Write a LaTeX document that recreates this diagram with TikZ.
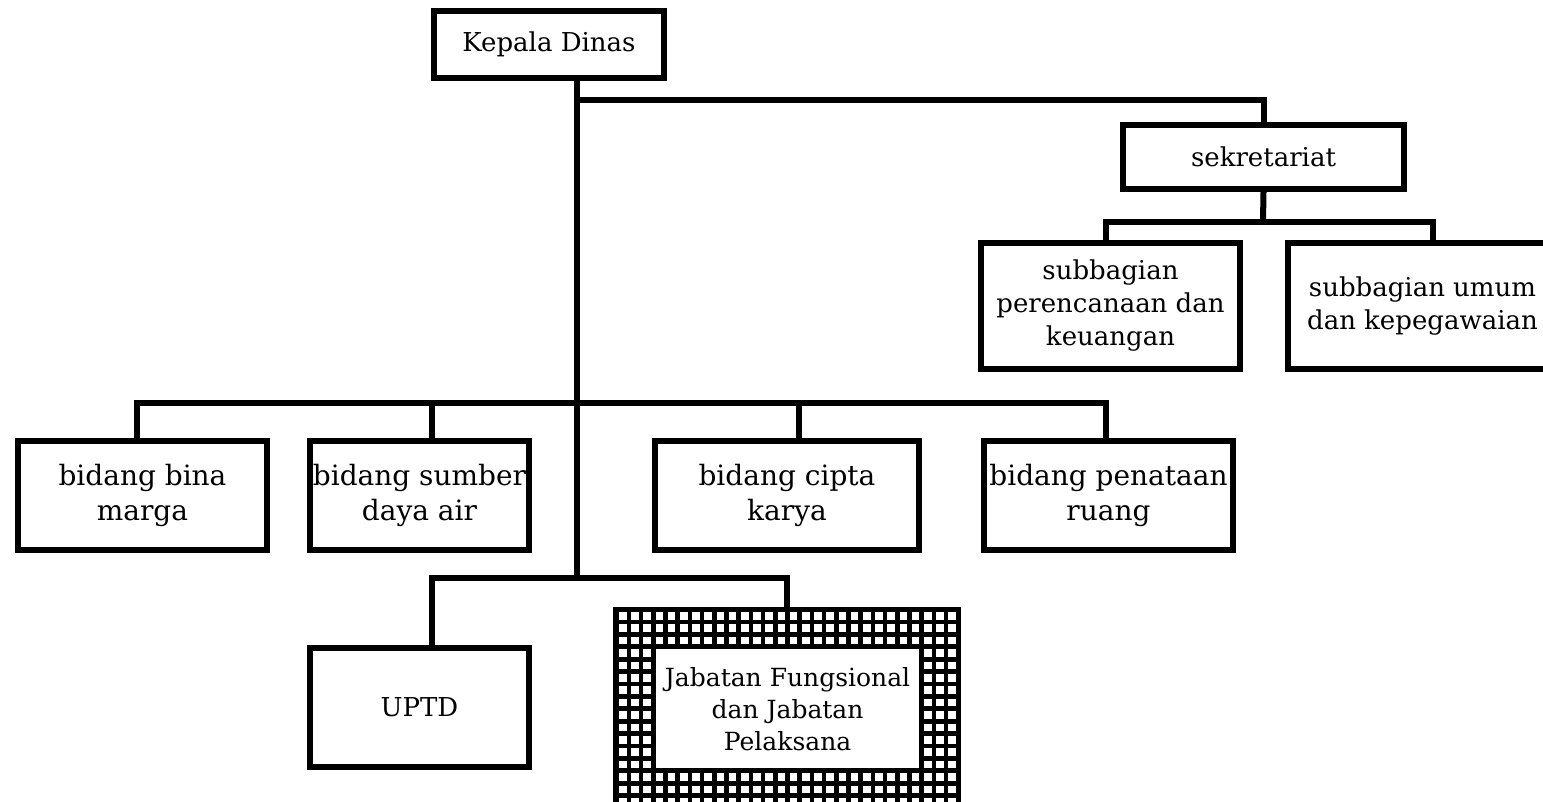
\documentclass[tikz,border=0pt]{standalone}
\usepackage{fontspec}
\setmainfont{DejaVu Serif}
\begin{document}
\begin{tikzpicture}[x=1pt,y=-1pt,
  box/.style={draw=black,line width=6pt,align=center,inner sep=0pt,
    font=\fontsize{26}{33}\selectfont},
  bidbox/.style={box,font=\fontsize{28}{35}\selectfont,minimum width=249pt,minimum height=109pt},
  link/.style={draw=black,line width=6pt}]
\useasboundingbox (0,0) rectangle (1543,802);
\clip (0,0) rectangle (1543,802);
\fill[white] (0,0) rectangle (1543,802);

% nodes
\node[box,minimum width=230pt,minimum height=67pt] (kd) at (549,44.5) {Kepala Dinas};
\node[box,minimum width=281pt,minimum height=64pt] (sek) at (1263.5,157) {sekretariat};
\node[box,minimum width=259pt,minimum height=126pt] (sp) at (1110.5,306) {subbagian\\perencanaan dan\\keuangan};
\node[box,minimum width=269pt,minimum height=126pt] (su) at (1422.5,306) {subbagian umum\\dan kepegawaian};

\node[bidbox] (bm) at (142.5,495.5) {bidang bina\\marga};
\node[bidbox,minimum width=219pt] (sda) at (419.5,495.5) {bidang sumber\\daya air};
\node[bidbox,minimum width=264pt] (ck) at (787,495.5) {bidang cipta\\karya};
\node[bidbox] (pr) at (1108.5,495.5) {bidang penataan\\ruang};

\node[box,minimum width=219pt,minimum height=119pt] (uptd) at (419.5,707.5) {UPTD};

% patterned box for Jabatan Fungsional
\fill[black] (613,607) rectangle (961,810);
\foreach \i in {0,...,27}{
  \foreach \j in {0,...,15}{
    \fill[white] ({619+12.2*\i},{612+12.4*\j}) rectangle ++(7.6,7.6);
  }
}
\fill[white] (655.6,649.2) rectangle (919.4,768.4);
\node[minimum width=348pt,minimum height=202pt,inner sep=0pt] (jabo) at (787,708) {};
\node[align=center,inner sep=0pt,font=\fontsize{25}{32}\selectfont] (jab) at (787.6,708.9)
  {Jabatan Fungsional\\dan Jabatan\\Pelaksana};

% coordinates of the trunk
\coordinate (tt) at (577,100);
\coordinate (bb) at (577,403);
\coordinate (tr) at (577,578);
\coordinate (sb) at (1263,222);

% connectors
\draw[link] (kd.south -| tt) -- (tr);
\draw[link] (tt) -| (sek.north);
\draw[link] (sek.south) -- (sb);
\draw[link] ([xshift=-4.5pt]sp.north) |- (sb) -| ([xshift=10.5pt]su.north);
\draw[link] ([xshift=-5.5pt]bm.north) |- (bb) -| ([xshift=-2.5pt]pr.north);
\draw[link] ([xshift=12.5pt]sda.north) -- ([xshift=12.5pt]sda.north |- bb);
\draw[link] ([xshift=12pt]ck.north) -- ([xshift=12pt]ck.north |- bb);
\draw[link] ([xshift=12.5pt]uptd.north) |- (tr) -| (jabo.north);
\end{tikzpicture}
\end{document}
